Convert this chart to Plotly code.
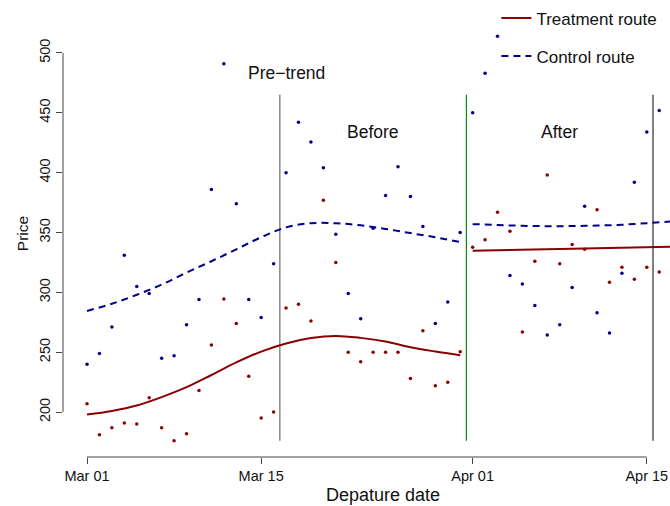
import pandas as pd
import plotly.graph_objects as go

# ---- data -------------------------------------------------------------
start = pd.Timestamp("2023-03-01")
dates = pd.date_range(start, periods=47, freq="D")

treatment_price = [
    207, 181, 187, 191, 190, 212, 187, 176, 182, 218,
    256, 294.5, 274, 230, 195, 200, 287, 290, 276, 377,
    325, 250, 242, 250, 250, 250, 228, 268, 222, 225,
    250.5, 337.6, 344, 367, 351, 267, 326, 398, 324, 340,
    336, 369, 308.5, 321, 311, 321, 317,
]
control_price = [
    240, 249, 271, 331, 305, 299, 245, 247, 273, 294,
    386, 491, 374, 294, 279, 324, 400, 442, 425.5, 404,
    348.5, 299, 278, 353.5, 381, 405, 380, 355, 274, 292,
    350, 450, 483, 514, 314, 307, 289, 264.5, 273, 304,
    372, 283, 266, 316, 392, 434, 452,
]

# smoothed trends (day offset from Mar 01 -> fitted price)
treat_pre_day = [0, 2, 4, 6, 8, 10, 12, 14, 16, 18, 20, 22, 24, 26, 28, 30]
treat_pre_fit = [198, 201, 205.5, 212.5, 220.8, 231, 241.5, 250.5, 257.3, 261.8, 263.6,
                 262, 259, 254.2, 250.6, 247.5]
ctrl_pre_day = [0, 2, 4, 6, 8, 10, 12, 14, 16, 18, 20, 22, 24, 26, 28, 30]
ctrl_pre_fit = [284.5, 290.5, 298, 306.5, 316.5, 326, 336, 346, 354.3, 357.8, 357.7,
                356, 353, 349.5, 346, 342]
treat_post_day = [31, 39, 47]
treat_post_fit = [334.8, 336.5, 338.2]
ctrl_post_day = [31, 33, 35, 37, 39, 41, 43, 45, 47]
ctrl_post_fit = [357, 356.3, 355.6, 355.3, 355.4, 355.8, 356.5, 357.8, 359.3]

# period boundaries
break_dates = [pd.Timestamp("2023-03-16 12:00"), pd.Timestamp("2023-03-31 12:00"),
               pd.Timestamp("2023-04-15 12:00")]
break_low, break_high = 176, 465

period_labels = ["Pre\u2212trend", "Before", "After"]
period_label_dates = [pd.Timestamp("2023-03-17"), pd.Timestamp("2023-03-24"), pd.Timestamp("2023-04-08")]
period_label_prices = [483, 434, 434]

tick_dates = [pd.Timestamp("2023-03-01"), pd.Timestamp("2023-03-15"),
              pd.Timestamp("2023-04-01"), pd.Timestamp("2023-04-15")]
tick_text = ["Mar 01", "Mar 15", "Apr 01", "Apr 15"]
price_ticks = [200, 250, 300, 350, 400, 450, 500]


def to_dates(offsets):
    return [start + pd.Timedelta(days=d) for d in offsets]


RED = "#8b0000"
BLUE = "#00008b"
FONT = "Liberation Sans, Arial, sans-serif"

fig = go.Figure()

fig.add_trace(go.Scatter(x=dates, y=treatment_price, mode="markers",
                         marker=dict(color=RED, size=3.5), showlegend=False, hoverinfo="skip"))
fig.add_trace(go.Scatter(x=dates, y=control_price, mode="markers",
                         marker=dict(color=BLUE, size=3.5), showlegend=False, hoverinfo="skip"))

fig.add_trace(go.Scatter(x=to_dates(treat_pre_day), y=treat_pre_fit, mode="lines",
                         line=dict(color=RED, width=2, shape="spline", smoothing=1),
                         name="Treatment route", legendgroup="t"))
fig.add_trace(go.Scatter(x=to_dates(treat_post_day), y=treat_post_fit, mode="lines",
                         line=dict(color=RED, width=2, shape="spline"),
                         showlegend=False, legendgroup="t"))
fig.add_trace(go.Scatter(x=to_dates(ctrl_pre_day), y=ctrl_pre_fit, mode="lines",
                         line=dict(color=BLUE, width=2, dash="7px,5px", shape="spline", smoothing=1),
                         name="Control route", legendgroup="c"))
fig.add_trace(go.Scatter(x=to_dates(ctrl_post_day), y=ctrl_post_fit, mode="lines",
                         line=dict(color=BLUE, width=2, dash="7px,5px", shape="spline"),
                         showlegend=False, legendgroup="c"))

# vertical period separators
break_styles = [("#888888", 1.5), ("#008b00", 1.2), ("#555555", 1.5)]
for d, (col, w) in zip(break_dates, break_styles):
    fig.add_shape(type="line", xref="x", yref="y", x0=d, x1=d, y0=break_low, y1=break_high,
                  line=dict(color=col, width=w), layer="below")

# R-style axis lines spanning only the tick range
fig.add_shape(type="line", xref="x", yref="paper", x0=tick_dates[0], x1=tick_dates[-1],
              y0=0, y1=0, line=dict(color="#444444", width=1))
fig.add_shape(type="line", xref="paper", yref="y", x0=0, x1=0,
              y0=price_ticks[0], y1=price_ticks[-1], line=dict(color="#444444", width=1))

for txt, d, p in zip(period_labels, period_label_dates, period_label_prices):
    fig.add_annotation(x=d, y=p, xref="x", yref="y", text=txt, showarrow=False,
                       font=dict(size=17.5, color="#111111", family=FONT),
                       xanchor="center", yanchor="middle")

# axis titles
fig.add_annotation(x=0.528, y=-0.0, xref="paper", yref="paper", text="Depature date",
                   showarrow=False, yshift=-38, font=dict(size=18, color="#111111", family=FONT),
                   xanchor="center", yanchor="middle")
fig.add_annotation(x=-0.0675, y=0.51, xref="paper", yref="paper", text="Price", textangle=-90,
                   showarrow=False, font=dict(size=15.5, color="#111111", family=FONT),
                   xanchor="center", yanchor="middle")

x_lo = start + pd.Timedelta(days=-1.93)
x_hi = start + pd.Timedelta(days=46.865)

fig.update_layout(
    width=670, height=506,
    margin=dict(l=63, r=0, t=20, b=49),
    plot_bgcolor="white", paper_bgcolor="white",
    font=dict(family=FONT, color="#111111"),
    xaxis=dict(range=[x_lo, x_hi], showgrid=False, zeroline=False, showline=False,
               tickmode="array", tickvals=tick_dates, ticktext=tick_text,
               ticks="outside", ticklen=6, tickcolor="#444444",
               tickfont=dict(size=14.5, color="#111111")),
    yaxis=dict(range=[162.5, 527.5], showgrid=False, zeroline=False, showline=False,
               tickmode="array", tickvals=price_ticks, tickangle=-90,
               ticks="outside", ticklen=6, tickcolor="#444444",
               tickfont=dict(size=14.5, color="#111111")),
    legend=dict(x=0.714, y=1.045, xanchor="left", yanchor="top",
                bgcolor="rgba(0,0,0,0)", font=dict(size=17, color="#111111", family=FONT),
                tracegroupgap=13, traceorder="grouped"),
    showlegend=True,
)

fig.write_html("out.html")
